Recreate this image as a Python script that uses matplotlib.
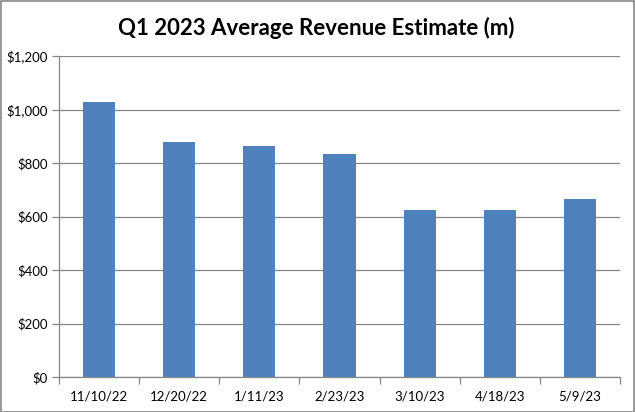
import matplotlib
matplotlib.use("Agg")
import matplotlib.pyplot as plt
from matplotlib.patches import Rectangle
from matplotlib.ticker import FuncFormatter, FixedLocator, NullFormatter

dates = ["11/10/22", "12/20/22", "1/11/23", "2/23/23", "3/10/23", "4/18/23", "5/9/23"]
revenue = [1028, 878, 862, 834, 624, 624, 665]

plt.rcParams['font.family'] = ['Lato', 'DejaVu Sans']

fig = plt.figure(figsize=(6.35, 4.12), dpi=100)
ax = fig.add_axes([59/635, 35/412, (620-59)/635, (377-56)/412])

x = list(range(len(dates)))
ax.bar(x, revenue, width=0.4, color="#4F81BD", zorder=3)

ax.set_xlim(-0.5, len(dates) - 0.5)
ax.set_ylim(0, 1200)
ax.set_yticks(range(0, 1201, 200))
ax.yaxis.set_major_formatter(FuncFormatter(lambda v, p: f"${int(v):,}"))
ax.grid(axis="y", color="#868686", linewidth=0.9, zorder=0)

ax.set_xticks(x)
ax.set_xticklabels(dates)
ax.xaxis.set_minor_locator(FixedLocator([i - 0.5 for i in range(len(dates) + 1)]))
ax.xaxis.set_minor_formatter(NullFormatter())
ax.tick_params(axis="x", which="major", length=0, pad=10, labelsize=9.5, colors="black")
ax.tick_params(axis="x", which="minor", length=5, color="#868686", width=0.9)
ax.tick_params(axis="y", length=5, color="#868686", width=0.9, labelsize=9.5, pad=3)

for s in ["top", "right"]:
    ax.spines[s].set_visible(False)
for s in ["left", "bottom"]:
    ax.spines[s].set_color("#868686")
    ax.spines[s].set_linewidth(0.9)

fig.text(316/635, 1 - 28/412, "Q1 2023 Average Revenue Estimate (m)", ha="center", va="center",
         fontsize=16, fontweight="bold")

fig.patches.append(Rectangle((0.5/635, 0.5/412), 1 - 1.5/635, 1 - 1.5/412, transform=fig.transFigure,
                             fill=False, edgecolor="#868686", linewidth=1.2))

fig.savefig("out.png", dpi=100)
